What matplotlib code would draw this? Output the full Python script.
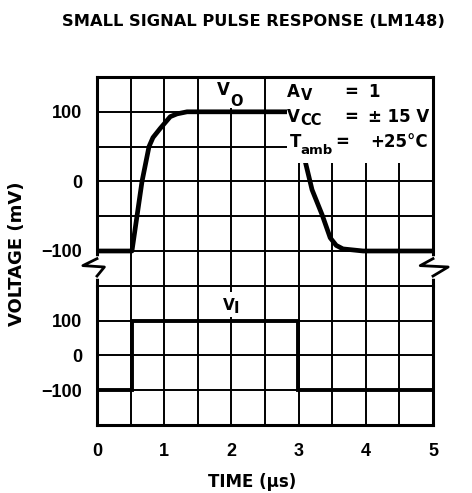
import matplotlib
matplotlib.use("Agg")
import matplotlib.pyplot as plt
from matplotlib.patches import Rectangle

# output pulse (upper trace), time in us, voltage in mV
vo_t = [0, 0.52, 0.595, 0.67, 0.774, 0.833, 0.94, 1.09, 1.19, 1.34, 1.6,
        2.9, 3.0, 3.04, 3.095, 3.2, 3.35, 3.47, 3.56, 3.66, 3.96, 5.0]
vo_mv = [-100, -100, -50, 0, 50, 63, 76, 93, 97, 100, 100,
         100, 100, 75, 30, -12, -48, -81, -92, -97, -100, -100]

# input pulse (lower trace)
vi_t = [0, 0.52, 0.52, 2.99, 2.99, 5.0]
vi_mv = [-100, -100, 100, 100, -100, -100]

x_labels = {0: "0", 1: "1", 2: "2", 3: "3", 4: "4", 5: "5"}
y_labels = {-100: "\u2212100", 0: "0", 100: "100"}

tick_font = dict(family="Liberation Sans", fontweight="bold", fontsize=13)

fig = plt.figure(figsize=(4.72, 4.93), dpi=100)
ax_top = fig.add_axes([0.2055, 0.4203, 0.7119, 0.4235])
ax_bot = fig.add_axes([0.2055, 0.1379, 0.7119, 0.2824])

grid_kw = dict(color="black", linewidth=1.4)
xt = [i * 0.5 for i in range(11)]

for ax, lim, step in ((ax_top, 150, 50), (ax_bot, 200, 100)):
    ax.set_xlim(0, 5)
    ax.set_ylim(-lim, lim)
    ax.set_xticks(xt)
    yt = list(range(-lim, lim + 1, step))
    ax.set_yticks(yt)
    ax.set_yticklabels([y_labels.get(v, "") for v in yt], **tick_font)
    ax.grid(True, **grid_kw)
    ax.tick_params(length=0, pad=10.5)
    for sp in ax.spines.values():
        sp.set_linewidth(2.2)

ax_top.set_xticklabels([])
ax_top.spines["bottom"].set_visible(False)
ax_bot.spines["top"].set_visible(False)
ax_bot.set_xticklabels([x_labels.get(v, "") if v == int(v) else ""
                        for v in xt], **tick_font)
ax_bot.tick_params(axis="x", pad=13)

ax_top.plot(vo_t, vo_mv, color="black", linewidth=3.4,
            solid_capstyle="butt", zorder=2)
ax_bot.plot(vi_t, vi_mv, color="black", linewidth=2.8,
            solid_joinstyle="miter", zorder=2)

# white areas behind the labels
ax_top.add_patch(Rectangle((2.83, 27), 2.17, 123, facecolor="white",
                           edgecolor="none", zorder=2.2))
ax_top.add_patch(Rectangle((1.77, 106), 0.47, 44, facecolor="white",
                           edgecolor="none", zorder=1.8))
ax_bot.add_patch(Rectangle((1.85, 110), 0.32, 72, facecolor="white",
                           edgecolor="none", zorder=1.8))

big = dict(fontsize=12, fontweight="bold", zorder=3, va="baseline")
sub = dict(fontsize=10.5, fontweight="bold", zorder=3, va="baseline")

ax_top.text(2.83, 121.6, "A", ha="left", **big)
ax_top.text(3.03, 116.5, "V", ha="left", **sub)
ax_top.text(3.78, 121.6, "=", ha="center", **big)
ax_top.text(4.03, 121.6, "1", ha="left", **big)

ax_top.text(2.83, 85, "V", ha="left", **big)
ax_top.text(3.03, 80.5, "CC", ha="left", **sub)
ax_top.text(3.78, 85, "=", ha="center", **big)
ax_top.text(4.03, 85, "\u00b1 15 V", ha="left", **big)

ax_top.text(2.87, 50, "T", ha="left", **big)
ax_top.text(3.03, 39, "amb", ha="left", fontsize=9.5, fontweight="bold",
            zorder=3, va="baseline")
ax_top.text(3.65, 50, "=", ha="center", **big)
ax_top.text(4.06, 50, "+25\u00b0C", ha="left", **big)

ax_top.text(1.786, 124.5, "V", ha="left", **big)
ax_top.text(1.99, 109, "O", ha="left", **sub)
ax_bot.text(1.875, 130, "V", ha="left", fontsize=11, fontweight="bold",
            zorder=3, va="baseline")
ax_bot.text(2.04, 121, "I", ha="left", **sub)

# axis break marks
tr = ax_top.get_yaxis_transform()
for x0, zx in ((0.0, [0.0, -0.042, 0.022, 0.0]),
               (1.0, [1.0, 0.962, 1.045, 1.0])):
    ax_top.plot([x0, x0], [-111, -136], color="white", linewidth=4,
                transform=tr, clip_on=False, zorder=4)
    ax_top.plot(zx, [-111, -121, -123, -136], color="black", linewidth=2,
                transform=tr, clip_on=False, zorder=5)

fig.text(0.536, 0.957, "SMALL SIGNAL PULSE RESPONSE (LM148)",
         ha="center", va="center", fontsize=11.7, fontweight="bold")
fig.text(0.534, 0.022, "TIME (\u00b5s)", ha="center", va="center",
         fontsize=12, fontweight="bold")
fig.text(0.037, 0.485, "VOLTAGE (mV)", ha="center", va="center",
         rotation=90, fontsize=13, fontweight="bold")

fig.savefig("out.png", dpi=100)
